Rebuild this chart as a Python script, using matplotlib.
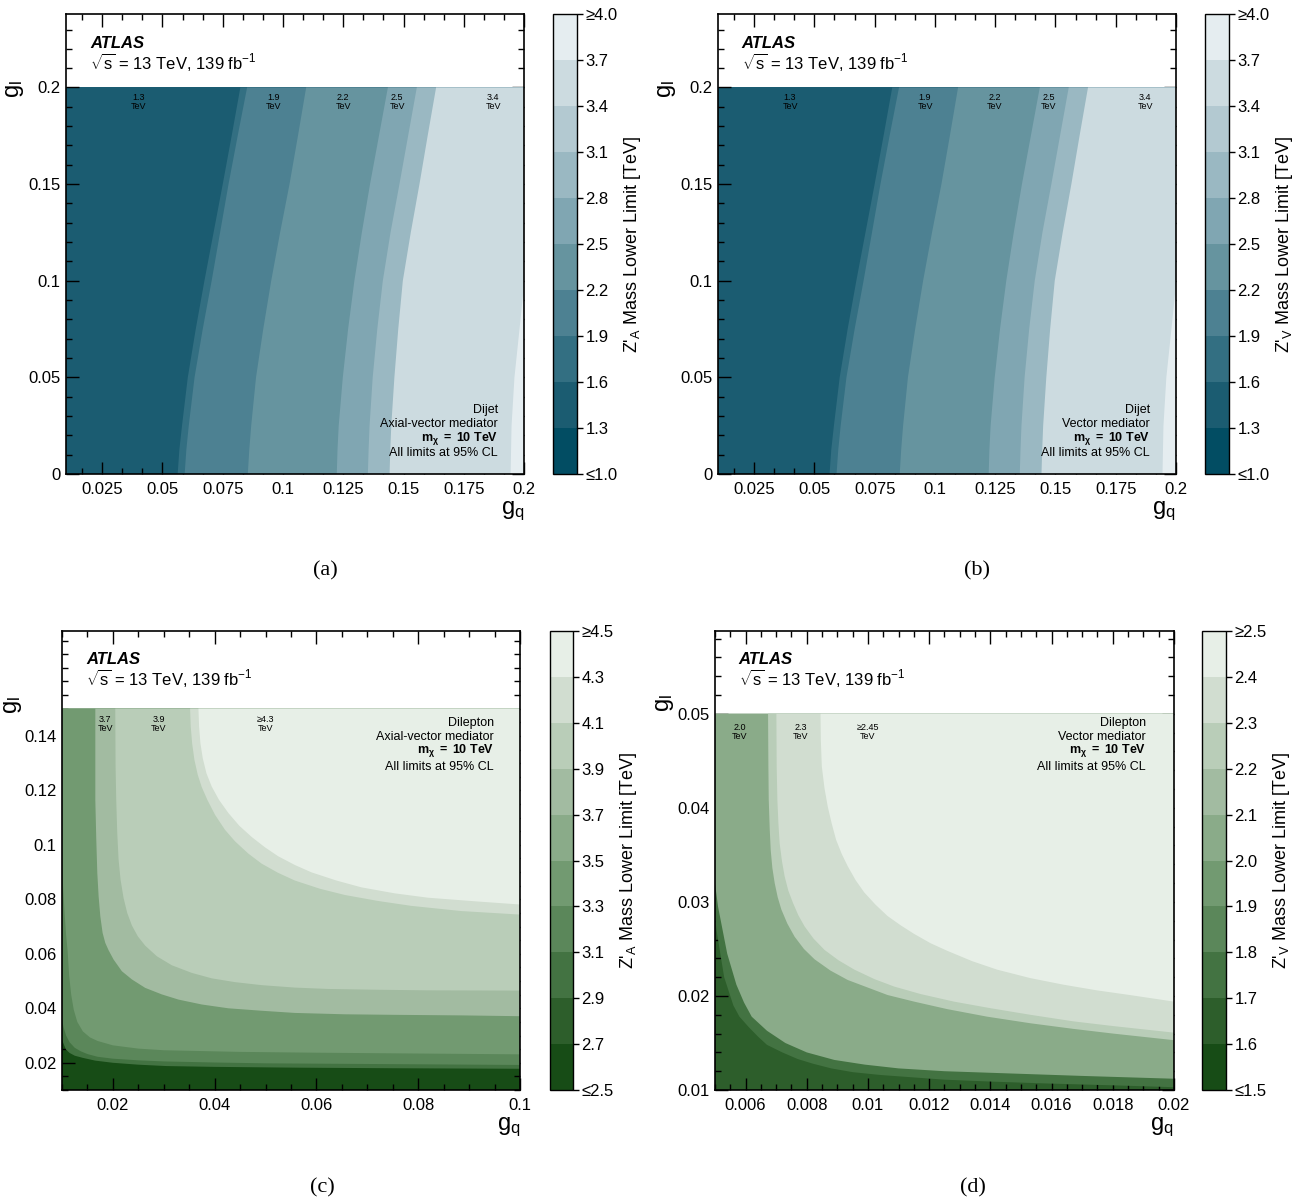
import matplotlib
matplotlib.use("Agg")
import matplotlib.pyplot as plt
from matplotlib.colors import ListedColormap, BoundaryNorm
from matplotlib.cm import ScalarMappable
from matplotlib.ticker import FixedLocator, MultipleLocator, FuncFormatter

plt.rcParams["font.family"] = ["Liberation Sans", "DejaVu Sans"]
plt.rcParams["mathtext.fontset"] = "custom"
plt.rcParams["mathtext.rm"] = "Liberation Sans"
plt.rcParams["mathtext.it"] = "Liberation Sans:italic"
plt.rcParams["mathtext.bf"] = "Liberation Sans:bold"
plt.rcParams["mathtext.sf"] = "Liberation Sans"
plt.rcParams["axes.linewidth"] = 1.2

# -------------------- colour scales (bottom -> top of colour bar) --------------------
BLUES = ["#024d63", "#1b5c71", "#336f82", "#4d8192", "#66949f",
         "#80a6b2", "#9ab8c2", "#b3c9d1", "#ccdbe0", "#e5edf0"]
GREENS = ["#174c16", "#2d5e2b", "#437342", "#5b875a", "#729a71",
          "#8aab89", "#a2bba1", "#b9cdb8", "#d1ddd0", "#e7efe7"]

# -------------------- dijet (a) and (b): g_q of each contour edge at given g_l --------------------
DIJET_GL = [0.0, 0.0125, 0.025, 0.05, 0.075, 0.10, 0.125, 0.15, 0.175, 0.20]
DIJET_EDGE_16 = [0.0563, 0.0570, 0.0581, 0.0605, 0.0638, 0.0674, 0.0712, 0.0750, 0.0787, 0.0823]
DIJET_EDGE_19 = [0.0592, 0.0599, 0.0609, 0.0633, 0.0667, 0.0704, 0.0739, 0.0774, 0.0812, 0.0851]
DIJET_EDGE_22 = [0.0854, 0.0860, 0.0868, 0.0888, 0.0918, 0.0951, 0.0988, 0.1027, 0.1062, 0.1096]
DIJET_EDGE_25 = [0.1223, 0.1226, 0.1231, 0.1248, 0.1270, 0.1296, 0.1327, 0.1361, 0.1398, 0.1435]
DIJET_EDGE_28 = [0.1352, 0.1355, 0.1359, 0.1372, 0.1391, 0.1414, 0.1446, 0.1483, 0.1519, 0.1555]
DIJET_EDGE_34 = [0.1442, 0.1445, 0.1449, 0.1462, 0.1478, 0.1497, 0.1530, 0.1566, 0.1600, 0.1635]
DIJET_GL_37 = [0.0, 0.025, 0.05, 0.075, 0.098]
DIJET_EDGE_37 = [0.1944, 0.1948, 0.1960, 0.1981, 0.2000]

DIJET_TICKS = [1.0, 1.3, 1.6, 1.9, 2.2, 2.5, 2.8, 3.1, 3.4, 3.7, 4.0]
DIJET_TICK_LABELS = ["≤1.0", "1.3", "1.6", "1.9", "2.2", "2.5", "2.8", "3.1", "3.4", "3.7", "≥4.0"]
DIJET_TAG_GQ = [0.0399, 0.0959, 0.1249, 0.1473, 0.1872]
DIJET_TAG_TEXT = ["1.3", "1.9", "2.2", "2.5", "3.4"]
DIJET_TAG_GL = 0.1927

# -------------------- dilepton axial-vector (c): (g_q, g_l) along each contour edge --------------------
LEPA_GQ_29 = [0.0100, 0.0104, 0.0108, 0.0115, 0.0125, 0.0141, 0.0165, 0.0200, 0.0250,
              0.0305, 0.0400, 0.0567, 0.0750, 0.1000]
LEPA_GL_29 = [0.0285, 0.0265, 0.0248, 0.0236, 0.0226, 0.0218, 0.0208, 0.0200, 0.0193,
              0.0188, 0.0185, 0.0182, 0.0180, 0.0178]
LEPA_GQ_31 = [0.0100, 0.0103, 0.0108, 0.0115, 0.0125, 0.0137, 0.0150, 0.0170, 0.0200,
              0.0250, 0.0300, 0.0400, 0.0500, 0.0750, 0.1000]
LEPA_GL_31 = [0.0360, 0.0330, 0.0300, 0.0275, 0.0255, 0.0242, 0.0232, 0.0222, 0.0215,
              0.0209, 0.0205, 0.0201, 0.0198, 0.0195, 0.0192]
LEPA_GQ_33 = [0.0100, 0.0102, 0.0105, 0.0108, 0.0111, 0.0114, 0.0118, 0.0123, 0.0130,
              0.0141, 0.0155, 0.0170, 0.0200, 0.0250, 0.0300, 0.0450, 0.0600, 0.0800, 0.1000]
LEPA_GL_33 = [0.1000, 0.0850, 0.0750, 0.0670, 0.0610, 0.0520, 0.0450, 0.0395, 0.0350,
              0.0315, 0.0293, 0.0280, 0.0264, 0.0252, 0.0246, 0.0240, 0.0237, 0.0234, 0.0231]
LEPA_GQ_37 = [0.01654, 0.01654, 0.01673, 0.01693, 0.01719, 0.01752, 0.01797, 0.01850,
              0.01915, 0.02013, 0.02176, 0.02373, 0.02634, 0.02961, 0.03288, 0.03745,
              0.04268, 0.04922, 0.05575, 0.06556, 0.07536, 0.08843, 0.1000]
LEPA_GL_37 = [0.1500, 0.1165, 0.1019, 0.0897, 0.0811, 0.0738, 0.0677, 0.0640,
              0.0613, 0.0579, 0.0536, 0.0506, 0.0475, 0.0451, 0.0432, 0.0414,
              0.0400, 0.0391, 0.0383, 0.0378, 0.0376, 0.0374, 0.0371]
LEPA_GQ_39 = [0.02046, 0.02052, 0.02065, 0.02085, 0.02111, 0.02150, 0.02209, 0.02281,
              0.02373, 0.02490, 0.02634, 0.02863, 0.03157, 0.03549, 0.03941, 0.04399,
              0.04922, 0.05575, 0.06229, 0.07209, 0.08190, 0.1000]
LEPA_GL_39 = [0.1500, 0.1288, 0.1165, 0.1043, 0.0946, 0.0872, 0.0805, 0.0750,
              0.0704, 0.0664, 0.0630, 0.0591, 0.0558, 0.0530, 0.0510, 0.0496,
              0.0485, 0.0476, 0.0471, 0.0468, 0.0466, 0.0465]
LEPA_GQ_41 = [0.03516, 0.03529, 0.03556, 0.03601, 0.03667, 0.03745, 0.03856, 0.04007,
              0.04203, 0.04399, 0.04660, 0.04922, 0.05248, 0.05575, 0.06065, 0.06556,
              0.07209, 0.07863, 0.08843, 0.1000]
LEPA_GL_41 = [0.1500, 0.1434, 0.1373, 0.1312, 0.1257, 0.1212, 0.1165, 0.1110,
              0.1055, 0.1013, 0.0968, 0.0931, 0.0897, 0.0869, 0.0839, 0.0816,
              0.0794, 0.0776, 0.0757, 0.0744]
LEPA_GQ_43 = [0.03680, 0.03693, 0.03719, 0.03765, 0.03837, 0.03941, 0.04085, 0.04268,
              0.04484, 0.04726, 0.04987, 0.05248, 0.05575, 0.05902, 0.06392, 0.06882,
              0.07536, 0.08190, 0.09170, 0.1000]
LEPA_GL_43 = [0.1500, 0.1434, 0.1373, 0.1318, 0.1263, 0.1214, 0.1165, 0.1117,
              0.1070, 0.1029, 0.0991, 0.0958, 0.0926, 0.0899, 0.0869, 0.0844,
              0.0822, 0.0806, 0.0792, 0.0781]

LEPA_TICKS = [2.5, 2.7, 2.9, 3.1, 3.3, 3.5, 3.7, 3.9, 4.1, 4.3, 4.5]
LEPA_TICK_LABELS = ["≤2.5", "2.7", "2.9", "3.1", "3.3", "3.5", "3.7", "3.9", "4.1", "4.3", "≥4.5"]
LEPA_TAG_GQ = [0.0185, 0.02895, 0.0500]
LEPA_TAG_TEXT = ["3.7", "3.9", "≥4.3"]
LEPA_TAG_GL = 0.1444

# -------------------- dilepton vector (d) --------------------
LEPV_GQ_17 = [0.0050, 0.00505, 0.00515, 0.0053, 0.0056, 0.0058, 0.0061, 0.0064, 0.0067,
              0.0072, 0.0077, 0.0082, 0.0088, 0.0095, 0.0104, 0.0125, 0.0140, 0.0158,
              0.0180, 0.0200]
LEPV_GL_17 = [0.0285, 0.0270, 0.0250, 0.0220, 0.0190, 0.0178, 0.0167, 0.0157, 0.0148,
              0.0140, 0.0133, 0.0128, 0.0123, 0.0119, 0.0116, 0.0111, 0.0109, 0.0107,
              0.0105, 0.0103]
LEPV_GQ_20 = [0.0050, 0.0051, 0.00525, 0.0054, 0.0057, 0.00595, 0.0062, 0.0067, 0.0073,
              0.0080, 0.0089, 0.0099, 0.0110, 0.0125, 0.0143, 0.0170, 0.0200]
LEPV_GL_20 = [0.0320, 0.0295, 0.0270, 0.0245, 0.0212, 0.0193, 0.0178, 0.0163, 0.0150,
              0.0140, 0.0132, 0.0127, 0.0123, 0.0120, 0.0118, 0.0115, 0.0112]
LEPV_GQ_22 = [0.006735, 0.006746, 0.006757, 0.006790, 0.006822, 0.006876, 0.006952,
              0.007050, 0.007169, 0.007364, 0.007603, 0.007907, 0.008254, 0.008774,
              0.009338, 0.009989, 0.010640, 0.011508, 0.012592, 0.013894, 0.015304,
              0.016714, 0.018015, 0.0200]
LEPV_GL_22 = [0.0500, 0.0444, 0.0409, 0.0377, 0.0355, 0.0336, 0.0320,
              0.0305, 0.0292, 0.0277, 0.0263, 0.0250, 0.0239, 0.0227,
              0.0217, 0.0209, 0.0201, 0.0194, 0.0186, 0.0178, 0.0171,
              0.0165, 0.0160, 0.0153]
LEPV_GQ_23 = [0.007007, 0.007017, 0.007039, 0.007072, 0.007115, 0.007191, 0.007278,
              0.007397, 0.007549, 0.007722, 0.007928, 0.008221, 0.008579, 0.009035,
              0.009555, 0.010206, 0.010857, 0.011725, 0.012809, 0.014002, 0.015304,
              0.016714, 0.018015, 0.0200]
LEPV_GL_23 = [0.0500, 0.0444, 0.0409, 0.0384, 0.0362, 0.0343, 0.0327,
              0.0312, 0.0299, 0.0286, 0.0274, 0.0261, 0.0249, 0.0238,
              0.0228, 0.0218, 0.0210, 0.0202, 0.0194, 0.0187, 0.0180,
              0.0173, 0.0168, 0.0161]
LEPV_GQ_24 = [0.008449, 0.008460, 0.008492, 0.008579, 0.008688, 0.008818, 0.008959,
              0.009143, 0.009338, 0.009599, 0.009881, 0.010249, 0.010640, 0.011074,
              0.011508, 0.012050, 0.012592, 0.013406, 0.014219, 0.015304, 0.016388,
              0.017473, 0.018557, 0.0200]
LEPV_GL_24 = [0.0500, 0.0472, 0.0444, 0.0421, 0.0401, 0.0383, 0.0366,
              0.0351, 0.0338, 0.0323, 0.0310, 0.0297, 0.0285, 0.0275,
              0.0266, 0.0256, 0.0248, 0.0237, 0.0228, 0.0219, 0.0212,
              0.0206, 0.0201, 0.0194]

LEPV_TICKS = [1.5, 1.6, 1.7, 1.8, 1.9, 2.0, 2.1, 2.2, 2.3, 2.4, 2.5]
LEPV_TICK_LABELS = ["≤1.5", "1.6", "1.7", "1.8", "1.9", "2.0", "2.1", "2.2", "2.3", "2.4", "≥2.5"]
LEPV_TAG_GQ = [0.00581, 0.0078, 0.00999]
LEPV_TAG_TEXT = ["2.0", "2.3", "≥2.45"]
LEPV_TAG_GL = 0.0481


# -------------------- helpers --------------------
def level_color(level, ticks, colors):
    step = ticks[1] - ticks[0]
    return colors[int(round((level - ticks[0]) / step))]


def draw_limits(ax, base_level, edges, ticks, colors, xlim, ylim, data_top, close):
    # lowest band over the whole data area, higher bands painted on top
    ax.fill_between(xlim, ylim[0], data_top, color=level_color(base_level, ticks, colors),
                    lw=0, zorder=1)
    if close == "right":
        cx, cy = [xlim[1], xlim[1]], [data_top, ylim[0]]
    else:
        cx, cy = [xlim[1], xlim[0]], [data_top, data_top]
    for level, gq, gl in edges:
        ax.fill(list(gq) + cx, list(gl) + cy, color=level_color(level, ticks, colors),
                lw=0, zorder=2)


def style_axes(ax, xlim, ylim, xmajor, xminor, ymajor, yminor):
    ax.set_xlim(xlim)
    ax.set_ylim(ylim)
    fmt = FuncFormatter(lambda v, p: f"{v:g}")
    ax.xaxis.set_major_locator(FixedLocator(xmajor))
    ax.xaxis.set_minor_locator(MultipleLocator(xminor))
    ax.yaxis.set_major_locator(FixedLocator(ymajor))
    ax.yaxis.set_minor_locator(MultipleLocator(yminor))
    ax.xaxis.set_major_formatter(fmt)
    ax.yaxis.set_major_formatter(fmt)
    ax.tick_params(which="both", direction="in", top=True, right=True, width=1.0)
    ax.tick_params(which="major", length=9, labelsize=12)
    ax.tick_params(which="minor", length=4.5)
    ax.tick_params(axis="x", pad=6)
    ax.tick_params(axis="y", pad=4)
    ax.set_xlabel(r"g$_\mathrm{q}$", fontsize=17, loc="right")
    ax.xaxis.set_label_coords(1.0, -0.055)


def draw_colorbar(fig, rect, ticks, tick_labels, colors, label):
    cax = fig.add_axes(rect)
    norm = BoundaryNorm(ticks, len(colors))
    sm = ScalarMappable(norm=norm, cmap=ListedColormap(colors))
    cb = fig.colorbar(sm, cax=cax, ticks=ticks)
    cb.ax.set_yticklabels(tick_labels)
    cb.ax.tick_params(direction="out", length=4, width=1, labelsize=12, pad=2)
    cb.ax.minorticks_off()
    cb.outline.set_linewidth(1.0)
    cb.set_label(label, fontsize=13, labelpad=3)


def atlas_label(ax, y_top):
    ax.text(0.052, y_top, "ATLAS", transform=ax.transAxes, fontsize=12,
            fontweight="bold", fontstyle="italic", va="center", zorder=5)
    ax.text(0.052, y_top - 0.04, r"$\sqrt{\mathrm{s}}$ = 13 TeV, 139 fb$^{\mathrm{-1}}$",
            transform=ax.transAxes, fontsize=12, va="center", zorder=5)


def info_box(ax, x, ys, lines):
    for y, line in zip(ys, lines):
        ax.text(x, y, line, transform=ax.transAxes, fontsize=9, ha="right",
                va="center", zorder=5)


def tags(ax, gqs, gl, texts):
    for gq, t in zip(gqs, texts):
        ax.text(gq, gl, t + "\nTeV", fontsize=6.5, ha="center", va="center",
                linespacing=1.0, zorder=5)


# -------------------- figure --------------------
fig = plt.figure(figsize=(12.95, 12.01), dpi=100)

dijet_edges = [
    (1.6, DIJET_EDGE_16, DIJET_GL),
    (1.9, DIJET_EDGE_19, DIJET_GL),
    (2.2, DIJET_EDGE_22, DIJET_GL),
    (2.5, DIJET_EDGE_25, DIJET_GL),
    (2.8, DIJET_EDGE_28, DIJET_GL),
    (3.4, DIJET_EDGE_34, DIJET_GL),
    (3.7, DIJET_EDGE_37, DIJET_GL_37),
]
lepa_edges = [
    (2.9, LEPA_GQ_29, LEPA_GL_29),
    (3.1, LEPA_GQ_31, LEPA_GL_31),
    (3.3, LEPA_GQ_33, LEPA_GL_33),
    (3.7, LEPA_GQ_37, LEPA_GL_37),
    (3.9, LEPA_GQ_39, LEPA_GL_39),
    (4.1, LEPA_GQ_41, LEPA_GL_41),
    (4.3, LEPA_GQ_43, LEPA_GL_43),
]
lepv_edges = [
    (1.7, LEPV_GQ_17, LEPV_GL_17),
    (2.0, LEPV_GQ_20, LEPV_GL_20),
    (2.2, LEPV_GQ_22, LEPV_GL_22),
    (2.3, LEPV_GQ_23, LEPV_GL_23),
    (2.4, LEPV_GQ_24, LEPV_GL_24),
]

# (a) and (b): dijet
for rect, crect, med, zlab in [
    ([0.0510, 0.6053, 0.3537, 0.3830], [0.4270, 0.6053, 0.0185, 0.3830], "Axial-vector mediator", "A"),
    ([0.5544, 0.6053, 0.3537, 0.3830], [0.9305, 0.6053, 0.0185, 0.3830], "Vector mediator", "V"),
]:
    ax = fig.add_axes(rect)
    xlim, ylim = (0.01, 0.2), (0.0, 0.238)
    draw_limits(ax, 1.3, dijet_edges, DIJET_TICKS, BLUES, xlim, ylim, 0.2, "right")
    style_axes(ax, xlim, ylim,
               [0.025, 0.05, 0.075, 0.1, 0.125, 0.15, 0.175, 0.2], 0.025 / 3,
               [0.0, 0.05, 0.1, 0.15, 0.2], 0.01)
    ax.set_ylabel(r"g$_\mathrm{l}$", fontsize=17)
    ax.yaxis.set_label_coords(-0.088, 0.837)
    atlas_label(ax, 0.936)
    info_box(ax, 0.943, [0.139, 0.109, 0.078, 0.046],
             ["Dijet", med, r"$\mathbf{m_{\chi}\ =\ 10\ TeV}$", "All limits at 95% CL"])
    tags(ax, DIJET_TAG_GQ, DIJET_TAG_GL, DIJET_TAG_TEXT)
    draw_colorbar(fig, crect, DIJET_TICKS, DIJET_TICK_LABELS, BLUES,
                  "Z'$_\\mathrm{" + zlab + "}$ Mass Lower Limit [TeV]")

# (c): dilepton, axial-vector
ax = fig.add_axes([0.0479, 0.0924, 0.3537, 0.3822])
xlim, ylim = (0.01, 0.1), (0.01, 0.1785)
draw_limits(ax, 2.5, lepa_edges, LEPA_TICKS, GREENS, xlim, ylim, 0.15, "top")
style_axes(ax, xlim, ylim, [0.02, 0.04, 0.06, 0.08, 0.1], 0.005,
           [0.02, 0.04, 0.06, 0.08, 0.1, 0.12, 0.14], 0.005)
ax.set_ylabel(r"g$_\mathrm{l}$", fontsize=17)
ax.yaxis.set_label_coords(-0.082, 0.839)
atlas_label(ax, 0.937)
info_box(ax, 0.943, [0.800, 0.770, 0.739, 0.704],
         ["Dilepton", "Axial-vector mediator", r"$\mathbf{m_{\chi}\ =\ 10\ TeV}$",
          "All limits at 95% CL"])
tags(ax, LEPA_TAG_GQ, LEPA_TAG_GL, LEPA_TAG_TEXT)
draw_colorbar(fig, [0.4247, 0.0924, 0.0178, 0.3822], LEPA_TICKS, LEPA_TICK_LABELS, GREENS,
              r"Z'$_\mathrm{A}$ Mass Lower Limit [TeV]")

# (d): dilepton, vector
ax = fig.add_axes([0.5521, 0.0924, 0.3544, 0.3822])
xlim, ylim = (0.005, 0.02), (0.01, 0.0588)
draw_limits(ax, 1.6, lepv_edges, LEPV_TICKS, GREENS, xlim, ylim, 0.05, "top")
style_axes(ax, xlim, ylim,
           [0.006, 0.008, 0.01, 0.012, 0.014, 0.016, 0.018, 0.02], 0.0005,
           [0.01, 0.02, 0.03, 0.04, 0.05], 0.002)
ax.set_ylabel(r"g$_\mathrm{l}$", fontsize=17)
ax.yaxis.set_label_coords(-0.085, 0.843)
atlas_label(ax, 0.937)
info_box(ax, 0.939, [0.800, 0.770, 0.739, 0.704],
         ["Dilepton", "Vector mediator", r"$\mathbf{m_{\chi}\ =\ 10\ TeV}$",
          "All limits at 95% CL"])
tags(ax, LEPV_TAG_GQ, LEPV_TAG_GL, LEPV_TAG_TEXT)
draw_colorbar(fig, [0.9282, 0.0924, 0.0185, 0.3822], LEPV_TICKS, LEPV_TICK_LABELS, GREENS,
              r"Z'$_\mathrm{V}$ Mass Lower Limit [TeV]")

# sub-figure captions
for x, y, t in [(0.2510, 0.5246, "(a)"), (0.7544, 0.5246, "(b)"),
                (0.2486, 0.0108, "(c)"), (0.7514, 0.0108, "(d)")]:
    fig.text(x, y, t, fontfamily="Liberation Serif", fontsize=16, ha="center", va="center")

fig.savefig("out.png", dpi=100)
